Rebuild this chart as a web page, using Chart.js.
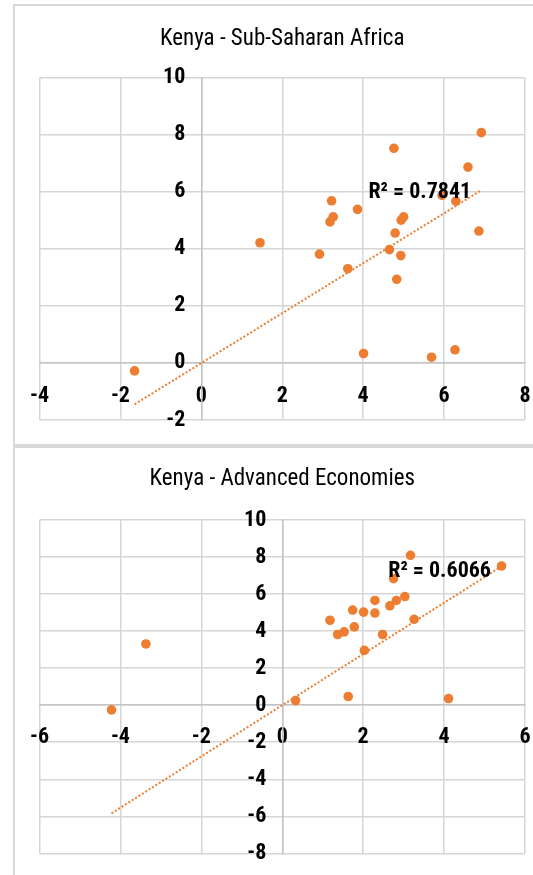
<!DOCTYPE html>
<html>
<head>
<meta charset="utf-8">
<script src="https://cdn.jsdelivr.net/npm/chart.js@4.4.1/dist/chart.umd.min.js"></script>
<style>
  html, body { margin: 0; padding: 0; background: #fff; }
  body { width: 533px; height: 875px; overflow: hidden; position: relative; }
  .frame { position: absolute; left: 13px; width: 540px; border: 2px solid #d9d9d9; box-sizing: border-box; }
  .box { position: absolute; left: 14px; width: 532px; }
  canvas { display: block; }
</style>
</head>
<body>
<div class="frame" style="top:4px;height:442px;"></div>
<div class="frame" style="top:446px;height:460px;"></div>
<div class="box" style="top:5px;height:440px;"><canvas id="ssa"></canvas></div>
<div class="box" style="top:447px;height:428px;"><canvas id="adv"></canvas></div>
<script>
// Kenya growth (y) against Sub-Saharan Africa growth (x), %
const ssaX = [6.92, 4.76, 6.59, 3.22, 5.95, 6.29, 3.86, 3.26, 3.18, 5.00, 4.94, 6.86, 4.79, 1.45, 2.92, 4.65, 4.93, 3.62, 4.83, 4.01, 5.69, 6.27, -1.65];
const ssaY = [8.07, 7.52, 6.86, 5.68, 5.87, 5.67, 5.38, 5.12, 4.94, 5.12, 5.00, 4.62, 4.55, 4.21, 3.81, 3.97, 3.76, 3.30, 2.93, 0.33, 0.20, 0.46, -0.28];
const ssaTrendX = [-1.65, 6.92];
const ssaTrendY = [-1.45, 6.05];
const ssaR2 = 'R\u00B2 = 0.7841';

// Kenya growth (y) against Advanced Economies growth (x), %
const advX = [3.17, 5.42, 2.75, 3.03, 2.82, 2.29, 2.66, 1.74, 2.01, 2.29, 1.18, 3.26, 1.78, 1.53, 1.37, 2.48, -3.37, 2.03, 0.33, 1.63, 4.11, -4.22];
const advY = [8.10, 7.52, 6.84, 5.87, 5.66, 5.66, 5.37, 5.14, 5.03, 4.98, 4.59, 4.64, 4.23, 3.96, 3.82, 3.82, 3.31, 2.96, 0.25, 0.47, 0.36, -0.25];
const advTrendX = [-4.22, 5.42];
const advTrendY = [-5.84, 7.50];
const advR2 = 'R\u00B2 = 0.6066';

const ORANGE = '#ED7D31';

// Pick a narrow sans face that is actually installed; fall back to DejaVu Sans Condensed.
const FACE = (() => {
  const c = document.createElement('canvas').getContext('2d');
  const sample = 'Kenya - Sub-Saharan Africa 0123456789';
  const width = f => { c.font = f; return c.measureText(sample).width; };
  const regular = width("100px 'Liberation Sans', monospace");
  const candidates = [
    { stretch: '', family: "'Roboto Condensed'" },
    { stretch: '', family: "'Liberation Sans Narrow'" },
    { stretch: '', family: "'Arial Narrow'" },
    { stretch: 'condensed', family: "'Open Sans'" },
    { stretch: 'condensed', family: "'Noto Sans'" },
    { stretch: 'condensed', family: "Roboto" }
  ];
  for (const o of candidates) {
    if (width(`${o.stretch} 100px ${o.family}, monospace`) < 0.9 * regular) {
      return { stretch: o.stretch, family: o.family + ', sans-serif', size: 22 };
    }
  }
  return { stretch: '', family: "'DejaVu Sans Condensed', sans-serif", size: 19 };
})();

const weightOf = w => (FACE.stretch ? w + ' ' + FACE.stretch : w);
const fontOf = (w, size = FACE.size) => ({ family: FACE.family, size, weight: weightOf(w), lineHeight: 1.2 });

const toPoints = (xs, ys) => xs.map((x, i) => ({ x, y: ys[i] }));

// Draws the R² caption of the trendline, anchored at a data position
const r2Label = {
  id: 'r2Label',
  afterDatasetsDraw(chart, args, opts) {
    const { ctx, scales } = chart;
    ctx.save();
    ctx.font = `${weightOf('bold')} ${FACE.size}px ${FACE.family}`;
    ctx.fillStyle = '#000';
    ctx.textAlign = 'left';
    ctx.textBaseline = 'alphabetic';
    ctx.fillText(opts.text, scales.x.getPixelForValue(opts.x), scales.y.getPixelForValue(opts.y));
    ctx.restore();
  }
};

// The y axis sits at x = 0; keep its labels a little clear of the axis line
const yLabelGap = {
  id: 'yLabelGap',
  beforeDraw(chart, args, opts) {
    const items = chart.scales.y.getLabelItems();
    if (items._shifted) return;
    items.forEach(it => { it.options.translation[0] -= opts.gap; });
    items._shifted = true;
  }
};

// Axes drawn across the plot must not reserve any room around it
const noRoom = s => {
  if (s.isHorizontal()) s.height = 0; else s.width = 0;
  s.paddingLeft = s.paddingRight = s.paddingTop = s.paddingBottom = 0;
};

function makeChart(id, cfg) {
  return new Chart(document.getElementById(id), {
    type: 'scatter',
    data: {
      datasets: [
        {
          type: 'line',
          data: toPoints(cfg.trendX, cfg.trendY),
          borderColor: ORANGE,
          borderWidth: 2,
          borderDash: [2, 2],
          pointRadius: 0,
          fill: false
        },
        {
          data: toPoints(cfg.xs, cfg.ys),
          backgroundColor: ORANGE,
          borderWidth: 0,
          pointRadius: 4.8,
          pointHoverRadius: 4.8
        }
      ]
    },
    options: {
      responsive: true,
      maintainAspectRatio: false,
      animation: false,
      events: [],
      layout: { padding: { left: 25.5, right: 21, top: 0, bottom: cfg.padBottom } },
      plugins: {
        legend: { display: false },
        tooltip: { enabled: false },
        title: {
          display: true,
          text: cfg.title,
          color: '#000',
          font: fontOf('normal', FACE.size + 1),
          padding: { top: cfg.titleTop, bottom: cfg.titleBottom }
        },
        r2Label: { text: cfg.r2, x: cfg.r2x, y: cfg.r2y },
        yLabelGap: { gap: 16 }
      },
      scales: {
        x: {
          type: 'linear',
          position: { y: 0 },
          min: cfg.xMin, max: cfg.xMax,
          afterFit: noRoom,
          ticks: { stepSize: 2, padding: cfg.xLabelPad, color: '#000', font: fontOf('bold') },
          grid: { color: '#d6d6d6', lineWidth: 1.5, drawTicks: false },
          border: { color: '#c4c4c4', width: 1.5 }
        },
        y: {
          type: 'linear',
          position: { x: 0 },
          min: cfg.yMin, max: cfg.yMax,
          afterFit: noRoom,
          ticks: { stepSize: 2, color: '#000', font: fontOf('bold') },
          grid: { color: '#d6d6d6', lineWidth: 1.5, drawTicks: false },
          border: { color: '#c4c4c4', width: 1.5 }
        }
      }
    },
    plugins: [r2Label, yLabelGap]
  });
}

makeChart('ssa', {
  title: 'Kenya - Sub-Saharan Africa',
  xs: ssaX, ys: ssaY, trendX: ssaTrendX, trendY: ssaTrendY,
  r2: ssaR2, r2x: 4.13, r2y: 5.77,
  xMin: -4, xMax: 8, yMin: -2, yMax: 10,
  titleTop: 20.5, titleBottom: 24.4, padBottom: 25, xLabelPad: 20
});

makeChart('adv', {
  title: 'Kenya - Advanced Economies',
  xs: advX, ys: advY, trendX: advTrendX, trendY: advTrendY,
  r2: advR2, r2x: 2.62, r2y: 6.94,
  xMin: -6, xMax: 6, yMin: -8, yMax: 10,
  titleTop: 18.5, titleBottom: 27, padBottom: 21.7, xLabelPad: 19.5
});
</script>
</body>
</html>
